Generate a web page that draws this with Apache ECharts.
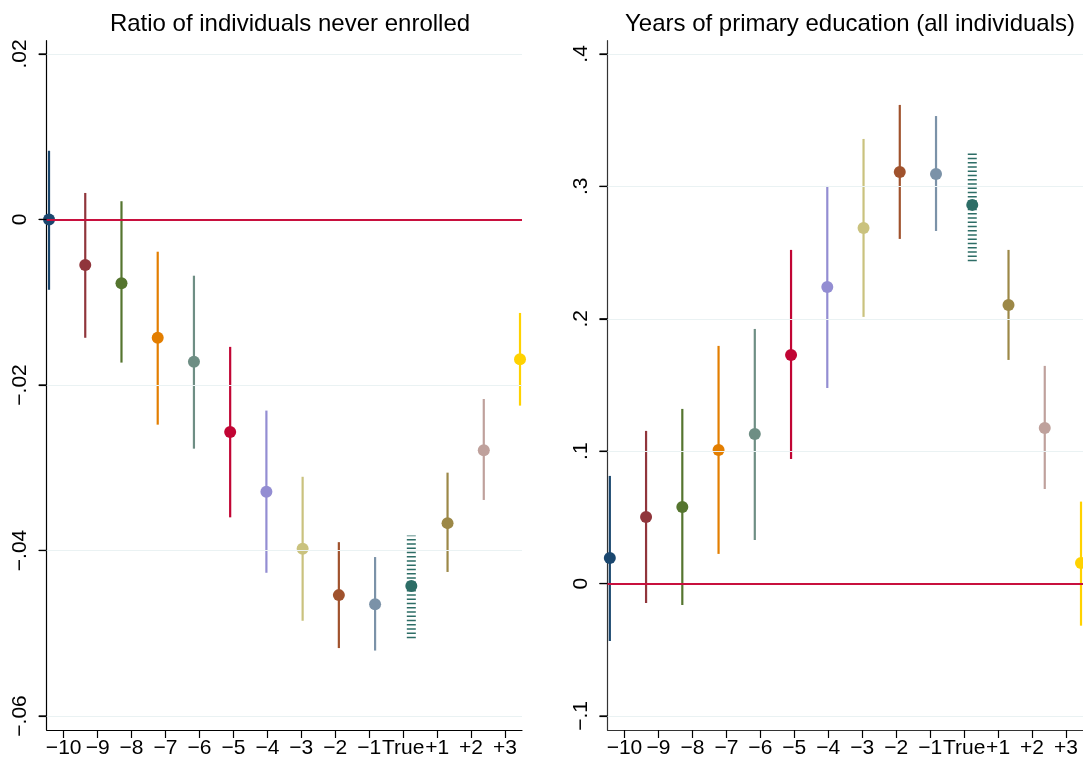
<!DOCTYPE html>
<html>
<head>
<meta charset="utf-8">
<script src="https://cdn.jsdelivr.net/npm/echarts@6/dist/echarts.min.js"></script>
<style>
html,body{margin:0;padding:0;background:#fff;}
#chart{width:1083px;height:762px;}
</style>
</head>
<body>
<div id="chart"></div>
<script>
// ---- data ----
var categories = ['\u221210','\u22129','\u22128','\u22127','\u22126','\u22125','\u22124','\u22123','\u22122','\u22121','True','+1','+2','+3'];
var colors = ['#1a476f','#90353b','#55752f','#e37e00','#6e8e84','#c10534','#938dd2','#cac27e','#a0522d','#7b92a8','#2d6d66','#9c8847','#bfa19c','#ffd200'];

var leftTitle = 'Ratio of individuals never enrolled';
var leftEst = [0.0000,-0.0055,-0.0077,-0.0143,-0.0172,-0.0257,-0.0329,-0.0398,-0.0454,-0.0465,-0.0443,-0.0367,-0.0279,-0.0169];
var leftLo  = [-0.0085,-0.0143,-0.0173,-0.0248,-0.0277,-0.0360,-0.0427,-0.0485,-0.0518,-0.0521,-0.0506,-0.0426,-0.0339,-0.0225];
var leftHi  = [0.0083,0.0032,0.0022,-0.0039,-0.0068,-0.0154,-0.0231,-0.0311,-0.0390,-0.0408,-0.0382,-0.0306,-0.0217,-0.0113];
var leftTicks = [-0.06,-0.04,-0.02,0,0.02];

var rightTitle = 'Years of primary education (all individuals)';
var rightEst = [0.0193,0.0503,0.0579,0.1009,0.1130,0.1727,0.2240,0.2686,0.3109,0.3094,0.2860,0.2104,0.1175,0.0156];
var rightLo  = [-0.0434,-0.0147,-0.0162,0.0224,0.0329,0.0941,0.1477,0.2014,0.2603,0.2663,0.2434,0.1689,0.0714,-0.0318];
var rightHi  = [0.0813,0.1153,0.1319,0.1795,0.1923,0.2520,0.3003,0.3358,0.3615,0.3531,0.3262,0.2520,0.1644,0.0619];
var rightTicks = [-0.1,0,0.1,0.2,0.3,0.4];

// ---- helpers ----
function stataFmt(v){
  if (Math.abs(v) < 1e-9) return '0';
  var s = String(+Math.abs(v).toFixed(3)).replace(/^0/, '');
  return (v < 0 ? '\u2212' : '') + s;
}
var FONT = 'Liberation Sans, Arial, Helvetica, sans-serif';

function panel(idx, est, lo, hi, ticks, ymin, ymax, axisColor){
  var ciData = est.map(function(e,i){ return [i, lo[i], hi[i]]; });
  var dotData = est.map(function(e,i){ return {value:[i, e], itemStyle:{color: colors[i], opacity:1}}; });
  var gridMarks = ticks.filter(function(t){return Math.abs(t)>1e-9;}).map(function(t){
    return {yAxis: t, lineStyle:{color:'#eaf2f3', width:1.2, type:'solid', opacity:1}};
  });
  gridMarks.push({yAxis: 0, lineStyle:{color:'#c8103e', width:2, type:'solid', opacity:1}});
  return {
    xAxes: [
      {gridIndex: idx, type:'category', data: categories, boundaryGap: true,
       axisLine:{show:true, onZero:false, lineStyle:{color:axisColor, width:1.2}},
       axisTick:{show:true, alignWithLabel:true, length:8, lineStyle:{color:'#000', width:1.2}},
       axisLabel:{interval:0, margin:8, color:'#000', fontSize:21, fontFamily:FONT},
       splitLine:{show:false}},
      {gridIndex: idx, type:'value', min:-0.064, max:13.055, show:false}
    ],
    yAxis: {gridIndex: idx, type:'value', min:ymin, max:ymax,
      axisLine:{show:true, onZero:false, lineStyle:{color:axisColor, width:1.2}},
      axisTick:{show:true, length:8, customValues: ticks, lineStyle:{color:'#000', width:1.2}},
      axisLabel:{rotate:90, margin:16, color:'#000', fontSize:21, fontFamily:FONT, customValues: ticks, formatter: stataFmt},
      splitLine:{show:false}},
    series: [
      {type:'custom', xAxisIndex: idx*2+1, yAxisIndex: idx, data: ciData, z:2, silent:true,
       clip:false,
       renderItem: function(params, api){
         var x = api.value(0), l = api.value(1), h = api.value(2);
         var p1 = api.coord([x, l]), p2 = api.coord([x, h]);
         var i = params.dataIndex;
         var isTrue = categories[i] === 'True';
         return {type:'line', shape:{x1:p1[0], y1:p1[1], x2:p2[0], y2:p2[1]},
           style:{stroke: colors[i], lineWidth: isTrue ? 9 : 2.2, lineDash: isTrue ? [1.5, 2.75] : null}};
       },
       markLine:{silent:true, symbol:['none','none'], label:{show:false}, animation:false,
         emphasis:{disabled:true}, data: gridMarks}
      },
      // y-axis tick marks drawn through the y scale
      {type:'custom', xAxisIndex: idx*2+1, yAxisIndex: idx, data: ticks.map(function(t){return [0, t];}), z:4, silent:true,
       clip:false,
       renderItem: function(params, api){
         var y = api.coord([0, api.value(1)])[1];
         var x0 = params.coordSys.x;
         return {type:'line', shape:{x1:x0-8, y1:y, x2:x0, y2:y}, style:{stroke:'#000', lineWidth:1.2}};
       }
      },
      {type:'scatter', xAxisIndex: idx*2+1, yAxisIndex: idx, data: dotData, symbolSize:12, z:3, silent:true, clip:false,
       itemStyle:{opacity:1}}
    ]
  };
}

var L = panel(0, leftEst, leftLo, leftHi, leftTicks, -0.0617, 0.0216, '#000');
var R = panel(1, rightEst, rightLo, rightHi, rightTicks, -0.1106, 0.41, '#333');

var chart = echarts.init(document.getElementById('chart'), null, {renderer:'canvas'});
chart.setOption({
  animation:false,
  backgroundColor:'#fff',
  title:[
    {text:leftTitle, left:285, top:7, textAlign:'center', textStyle:{fontSize:24, fontWeight:'normal', color:'#000', fontFamily:FONT}},
    {text:rightTitle, left:845, top:7, textAlign:'center', textStyle:{fontSize:24, fontWeight:'normal', color:'#000', fontFamily:FONT}}
  ],
  grid:[
    {left:46.7, top:40.7, width:475.3, height:689.3},
    {left:607.5, top:40.7, width:475.5, height:689.3}
  ],
  xAxis: L.xAxes.concat(R.xAxes),
  yAxis: [L.yAxis, R.yAxis],
  series: L.series.concat(R.series)
});
</script>
</body>
</html>
